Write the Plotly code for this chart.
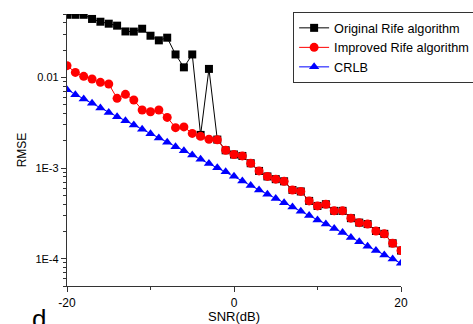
import plotly.graph_objects as go

snr = list(range(-20, 21))

original_rife = [0.049, 0.049, 0.049, 0.0441, 0.0411, 0.0391, 0.0372, 0.0321, 0.0320, 0.0344,
                 0.0288, 0.0256, 0.0274, 0.0179, 0.0129, 0.0179, 0.00232, 0.0124, 0.00206,
                 0.00157, 0.00141, 0.00136, 0.00113, 0.000929, 0.000808, 0.000754, 0.000714,
                 0.000573, 0.000552, 0.000434, 0.000382, 0.000399, 0.000337, 0.000337,
                 0.000280, 0.000250, 0.000241, 0.000202, 0.000188, 0.000148, 0.000123]

improved_rife = [0.01346, 0.01135, 0.01026, 0.00960, 0.00881, 0.00846, 0.00587, 0.00650, 0.00563,
                 0.00437, 0.00418, 0.00437, 0.00362, 0.00279, 0.00284, 0.00241, 0.00224, 0.00208,
                 0.00205, 0.00157, 0.00141, 0.00136, 0.00113, 0.000929, 0.000808, 0.000754,
                 0.000714, 0.000573, 0.000552, 0.000434, 0.000382, 0.000399, 0.000337, 0.000337,
                 0.000280, 0.000250, 0.000241, 0.000202, 0.000188, 0.000148, 0.000123]

crlb = [0.00732, 0.00645, 0.00578, 0.00517, 0.00460, 0.00411, 0.00369, 0.00333, 0.00299, 0.00267,
        0.00239, 0.00215, 0.00192, 0.00172, 0.00155, 0.00139, 0.00125, 0.00112, 0.00101,
        0.000913, 0.000810, 0.000721, 0.000640, 0.000573, 0.000513, 0.000460, 0.000415,
        0.000372, 0.000333, 0.000299, 0.000268, 0.000242, 0.000215, 0.000194, 0.000171,
        0.000154, 0.000137, 0.000123, 0.000110, 0.0000995, 0.0000890]

series_names = ["Original Rife algorithm", "Improved Rife algorithm", "CRLB"]

y_tickvals = [1e-4, 1e-3, 1e-2]
y_ticktext = ["1E-4", "1E-3", "0.01"]
x_tickvals = [-20, 0, 20]
x_ticktext = ["-20", "0", "20"]

FONT = "Liberation Sans, Arial, sans-serif"

fig = go.Figure()
fig.add_trace(go.Scatter(x=snr, y=original_rife, name=series_names[0], mode="lines+markers",
                         line=dict(color="black", width=1),
                         marker=dict(symbol="square", size=8, color="black")))
fig.add_trace(go.Scatter(x=snr, y=improved_rife, name=series_names[1], mode="lines+markers",
                         line=dict(color="red", width=1),
                         marker=dict(symbol="circle", size=9, color="red")))
fig.add_trace(go.Scatter(x=snr, y=crlb, name=series_names[2], mode="lines+markers",
                         line=dict(color="#0000ff", width=1),
                         marker=dict(symbol="triangle-up", size=9, color="#0000ff")))

minor_y = []
for d in [1e-5, 1e-4, 1e-3, 1e-2]:
    for k in range(2, 10):
        v = k * d
        if 5e-5 <= v <= 0.05:
            minor_y.append(v)

fig.update_layout(
    width=473, height=324,
    margin=dict(l=67, r=72, t=14, b=38, autoexpand=False),
    paper_bgcolor="white", plot_bgcolor="white",
    font=dict(family=FONT, color="black", size=12),
    showlegend=True,
    legend=dict(x=0.677, y=1.007, xanchor="left", yanchor="top",
                bordercolor="#333333", borderwidth=1, bgcolor="white",
                font=dict(size=12.7, family=FONT), tracegroupgap=0,
                itemwidth=30),
    xaxis=dict(range=[-20, 20], showline=True, linecolor="#333333", linewidth=1.3,
               showgrid=False, zeroline=False, ticks="outside", ticklen=5, tickcolor="#333333",
               tickvals=x_tickvals, ticktext=x_ticktext, tickfont=dict(size=12),
               minor=dict(ticks="outside", ticklen=3, tickvals=[-10, 10], tickcolor="#333333"),
               title=dict(text="SNR(dB)", font=dict(size=13), standoff=2)),
    yaxis=dict(type="log", range=[-4.301, -1.301], showline=True, linecolor="#333333", linewidth=1.3,
               showgrid=False, zeroline=False, ticks="outside", ticklen=5, tickcolor="#333333",
               tickvals=y_tickvals, ticktext=y_ticktext, tickfont=dict(size=11),
               minor=dict(ticks="outside", ticklen=3, tickvals=minor_y, tickcolor="#333333"),
               title=dict(text="RMSE", font=dict(size=12), standoff=6)),
)

fig.add_annotation(text="d", xref="paper", yref="paper", x=-0.084, y=-0.058,
                   xanchor="center", yanchor="top", showarrow=False,
                   font=dict(size=26, family=FONT, color="black"))

fig.write_html("out.html")
